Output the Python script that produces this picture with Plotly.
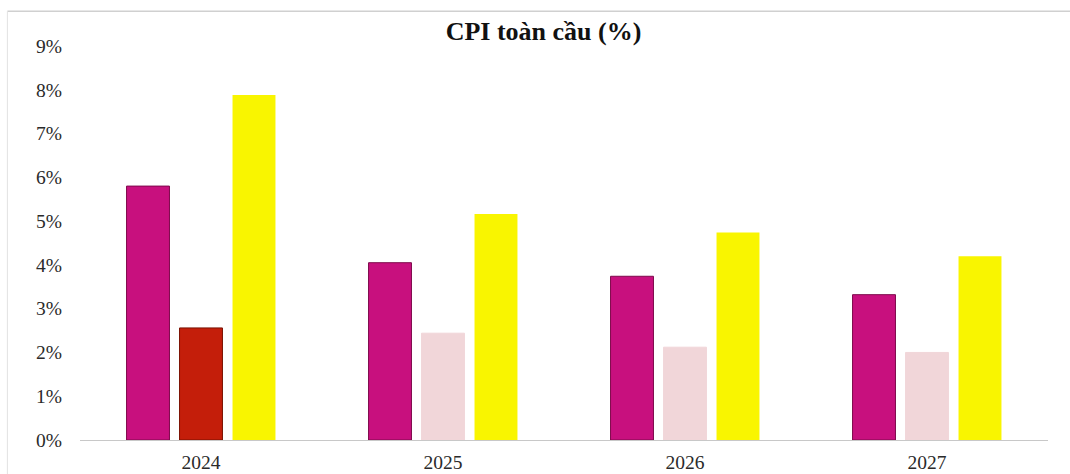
import plotly.graph_objects as go

years = ["2024", "2025", "2026", "2027"]
series_a = [5.8, 4.05, 3.74, 3.32]
series_b = [2.56, 2.44, 2.12, 2.0]
series_c = [7.88, 5.16, 4.74, 4.2]
y_ticks = [0, 1, 2, 3, 4, 5, 6, 7, 8, 9]
y_tick_labels = [f"{v}%" for v in y_ticks]

color_a = "#C8107E"
color_b = ["#C41E0A", "#F1D6D9", "#F1D6D9", "#F1D6D9"]
line_b = ["#7A1000", "#F1D6D9", "#F1D6D9", "#F1D6D9"]
color_c = "#F9F500"

fig = go.Figure()
fig.add_trace(go.Bar(x=years, y=series_a, name="A",
                     marker=dict(color=color_a, line=dict(color="#7E0A4C", width=1))))
fig.add_trace(go.Bar(x=years, y=series_b, name="B",
                     marker=dict(color=color_b, line=dict(color=line_b, width=1))))
fig.add_trace(go.Bar(x=years, y=series_c, name="C",
                     marker=dict(color=color_c, line=dict(color=color_c, width=0))))

serif = "Liberation Serif, Times New Roman, serif"
fig.update_layout(
    width=1070, height=474,
    margin=dict(l=80, r=22, t=46, b=34, autoexpand=False),
    paper_bgcolor="white", plot_bgcolor="white",
    showlegend=False,
    barmode="group", bargap=0.343, bargroupgap=0.19,
    font=dict(family=serif, size=19.5, color="#2a2a2a"),
    title=dict(text="<b>CPI toàn cầu (%)</b>", x=0.508, xanchor="center",
               y=0.934, yanchor="middle",
               font=dict(family=serif, size=26, color="#111111")),
    xaxis=dict(showline=True, linecolor="#c8c8c8", linewidth=1, showgrid=False,
               ticks="", ticklabelstandoff=5, zeroline=False, automargin=False),
    yaxis=dict(range=[0, 9], tickvals=y_ticks, ticktext=y_tick_labels,
               showgrid=False, zeroline=False, showline=False, ticks="",
               ticklabelstandoff=17, automargin=False),
    shapes=[
        dict(type="line", xref="paper", yref="paper", x0=-0.075, x1=1.03, y0=1.088, y1=1.088,
             line=dict(color="#d0d0d0", width=1.5)),
        dict(type="line", xref="paper", yref="paper", x0=-0.075, x1=-0.075, y0=1.088, y1=-0.09,
             line=dict(color="#e2e2e2", width=1)),
    ],
)

fig.write_html("out.html", config={"displayModeBar": False},
               post_script="document.body.style.margin='0';")
